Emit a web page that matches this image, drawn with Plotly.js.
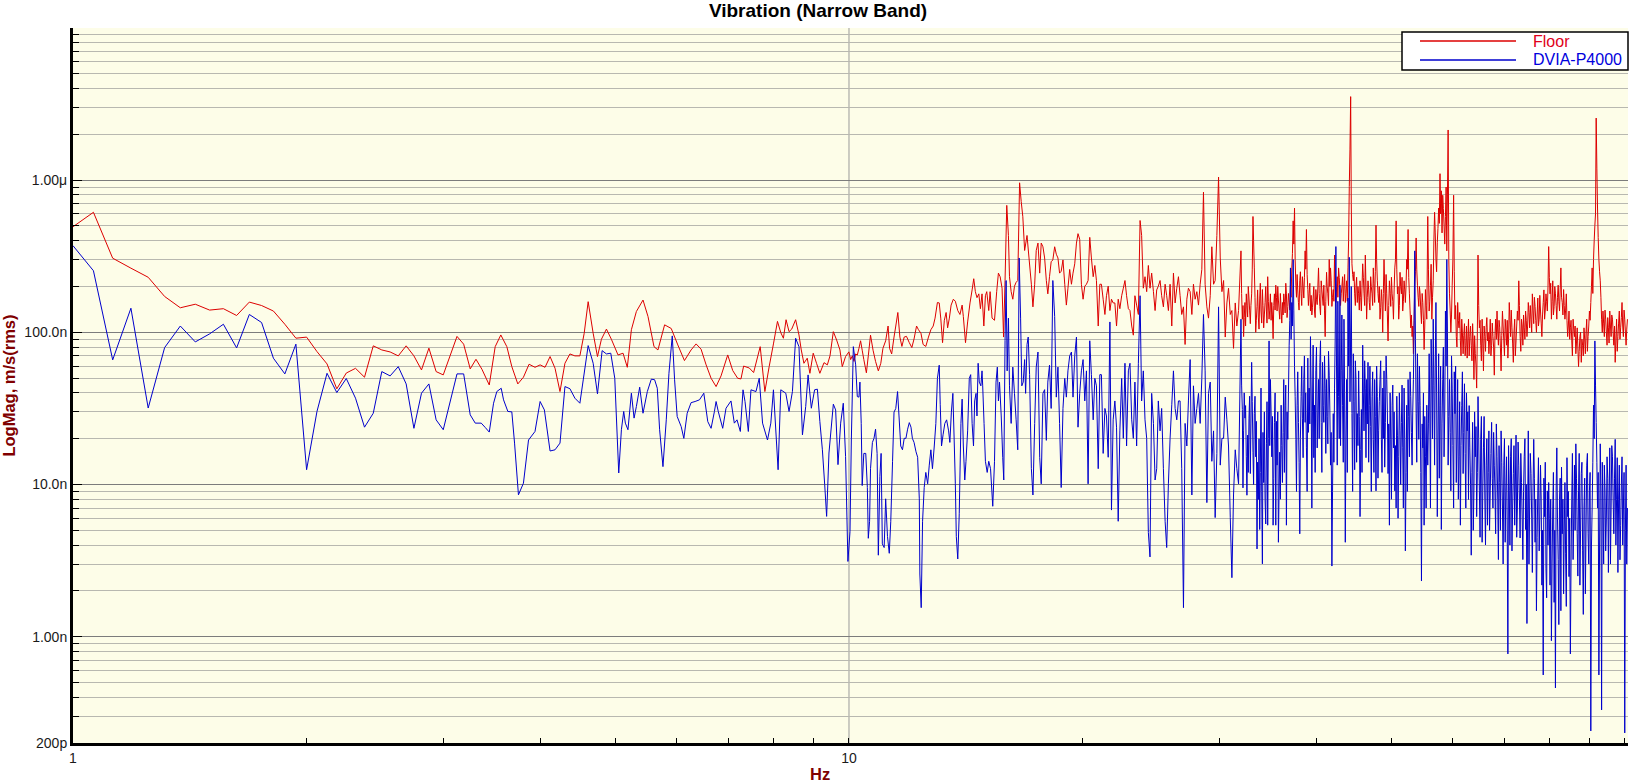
<!DOCTYPE html>
<html>
<head>
<meta charset="utf-8">
<script src="https://cdn.plot.ly/plotly-3.0.1.min.js"></script>
<style>
  html, body { margin: 0; padding: 0; background: #ffffff; }
  #chart { width: 1636px; height: 782px; }
</style>
</head>
<body>
<div id="chart"></div>
<script>
// Values in nm/s (rms); frequencies in Hz.
// 1 – 3.2 Hz
const hzLow = [1.0,1.0625,1.125,1.1875,1.25,1.3125,1.375,1.4375,1.5,1.5625,1.625,1.6875,1.75,1.8125,1.875,1.9375,2.0,2.0625,2.125,2.1875,2.25,2.3125,2.375,2.4375,2.5,2.5625,2.625,2.6875,2.75,2.8125,2.875,2.9375,3.0,3.125,3.1875];
const floorLow = [494,615,307,264,230,172,145,153,140,143,129,158,150,138,113,91.5,93,74.7,62,42.5,54,58,50.7,81.5,76.6,74.3,70,81.5,70,56.6,78.7,55.2,52.5,94,83.6];
const dviaLow = [371,254,65.9,144,31.8,79.4,110,86.5,97.7,113,79,131,116,67.6,53.3,83.6,12.5,30.2,53.8,40.2,49.7,36.9,23.8,29.4,55.2,51.7,59.5,45.8,23.4,39.8,45.8,26.6,22.9,53.3,53.3];

// 3.25 – 17.5 Hz, Floor
const floorHzMid = [3.25,3.306,3.365,3.439,3.50,3.559,3.623,3.677,3.743,3.806,3.870,3.939,3.999,4.058,4.119,4.180,4.242,4.305,4.369,4.434,4.500,4.558,4.612,4.681,4.741,4.797,4.869,4.941,5.039,5.115,5.180,5.243,5.321,5.427,5.508,5.607,5.673,5.786,5.901,6.018,6.137,6.259,6.353,6.447,6.545,6.642,6.741,6.841,6.978,7.082,7.187,7.258,7.315,7.439,7.535,7.684,7.791,7.891,7.992,8.088,8.168,8.232,8.297,8.371,8.437,8.536,8.621,8.680,8.748,8.835,8.905,8.993,9.082,9.172,9.286,9.378,9.452,9.546,9.640,9.735,9.802,9.899,9.997,
10.05,10.10,10.15,10.20,10.25,10.30,10.35,10.40,10.45,10.53,10.59,10.66,10.74,10.82,10.91,10.99,11.06,11.15,11.23,11.28,11.35,11.43,11.49,11.56,11.63,11.70,11.78,11.86,11.96,12.05,12.13,12.22,12.29,12.38,12.46,12.56,12.66,12.75,12.84,12.91,13.0,13.07,13.13,13.20,13.27,13.34,13.40,13.47,13.54,13.63,13.71,13.81,13.90,13.99,14.04,14.13,14.22,14.32,14.41,14.48,14.55,14.62,14.70,14.77,14.84,14.92,14.99,15.05,15.14,15.20,15.29,15.40,15.50,15.58,15.66,15.75,15.82,15.89,15.97,16.05,16.10,16.18,16.26,16.34,16.42,16.50,16.59,16.67,16.75,16.84,16.96,17.06,17.18,17.26,17.35,17.43,17.52];
const floorMid = [57.5,66.5,57.2,45.1,80.5,96.1,80.5,59.5,45.8,50.7,61.7,58.9,61.1,58.9,69.3,58.1,40.8,62.6,72.1,70,70,98.6,159,98.6,69.3,90,105,90,71,72.9,58.9,104,137,163,127,80.5,76.6,112,106,82.6,65.2,76.6,83.9,77.5,61.1,49.9,44,51.7,71,56.1,49.9,49.4,60,58.3,54.4,80.5,40.8,59.5,83.9,118,99.5,91.4,121,101,105,121,96.1,76.6,62.6,67.6,53.8,72.9,62.6,53.8,63.2,61.1,70,101,89,76.6,59.5,69.3,74.4,
66.2,70.1,64.4,72.1,70.9,78.5,88,76.3,66.2,54.2,70.1,95.8,76.3,64.4,55.8,62.6,78.5,88,110,78.5,72.1,93.1,110,135,93.1,80.8,93.1,94.1,85.5,79.4,90.5,110,104,98.6,83.2,80.8,93.1,104,110,124,157,156,124,85.5,120,135,107,124,151,165,160,139,131,151,127,85.5,117,156,190,225,185,169,179,143,179,110,174,185,139,185,124,120,185,245,232,195,93.1,219,683,433,232,185,165,201,213,219,961,723,575,345,433,308,207,147,207,345,386];

// 3.25 – 17.5 Hz, DVIA-P4000
const dviaHzMid = [3.25,3.299,3.358,3.398,3.439,3.483,3.517,3.563,3.588,3.634,3.677,3.707,3.75,3.806,3.864,3.939,3.999,4.05,4.119,4.180,4.242,4.305,4.369,4.434,4.500,4.545,4.612,4.681,4.741,4.807,4.869,4.932,4.991,5.05,5.09,5.125,5.15,5.19,5.243,5.285,5.321,5.374,5.427,5.497,5.562,5.617,5.662,5.701,5.758,5.815,5.861,5.919,5.96,6.006,6.078,6.126,6.187,6.259,6.334,6.417,6.50,6.577,6.642,6.708,6.741,6.787,6.875,6.943,7.046,7.116,7.173,7.244,7.302,7.345,7.418,7.476,7.588,7.662,7.738,7.852,7.930,7.992,8.103,8.168,8.29,8.371,8.455,8.536,8.621,8.71,8.795,8.857,8.943,9.03,9.105,9.172,9.241,9.305,9.358,9.423,9.546,9.612,9.679,9.756,9.832,9.899,9.968,10.03,10.07,10.13,10.20,10.25,
10.30,10.33,10.37,10.40,10.45,10.51,10.56,10.59,10.63,10.66,10.72,10.77,10.82,10.87,10.91,10.96,11.0,11.04,11.10,11.15,11.21,11.27,11.32,11.38,11.43,11.49,11.55,11.60,11.66,11.72,11.78,11.84,11.90,11.96,12.02,12.07,12.13,12.20,12.26,12.32,12.34,12.39,12.44,12.50,12.56,12.63,12.69,12.75,12.81,12.88,12.94,13.0,13.07,13.11,13.16,13.22,13.29,13.36,13.44,13.49,13.55,13.61,13.67,13.71,13.75,13.81,13.87,13.94,13.99,14.04,14.10,14.15,14.22,14.29,14.35,14.41,14.47,14.52,14.58,14.62,14.67,14.72,14.79,14.84,14.87,14.93,14.99,15.07,15.14,15.22,15.28,15.32,15.40,15.47,15.53,15.58,15.63,15.71,15.78,15.83,15.89,15.94,15.99,16.05,16.10,16.18,16.26,16.34,16.42,16.50,16.57,16.64,16.70,16.77,16.84,16.89,16.96,17.02,17.09,17.18,17.26,17.35,17.43,17.52];
const dviaMid = [28.7,25.3,25.3,23.7,22.1,34.2,40.8,42.9,36,30.2,30,18.7,8.55,10.2,19.6,22.3,35.1,30.9,16.6,16.9,18.7,44,42.6,36.9,34.2,48.7,81.8,62.6,39.4,75.8,72.1,72.9,49.9,11.9,22.9,30.2,25.3,22.9,39.8,27.3,32.5,43.6,29.4,40.8,49.2,48.8,42.9,22.9,13.1,26.6,53.8,94.7,48.8,28,24,20.1,29.4,34.5,35.1,36,39.8,25.9,23.4,30.2,35.1,30,23.4,31.7,35.4,25.3,26.6,22.3,41.9,35.1,22.3,41.9,40.8,49.9,25.3,19.6,25.3,41.9,12.5,41.9,39.8,30.2,40.8,91.4,80.5,21.2,32.5,52.5,31.7,41.9,42.3,25.9,16.9,9.95,6.17,16.1,33.7,30.9,13.5,25.3,34.2,15.3,3.12,4.91,19.6,80.5,61.1,37.8,
37.5,47.1,25.2,9.84,16.0,16.0,9.55,4.43,5.73,12.7,18.9,20.1,23.1,16.0,3.43,11.3,16.0,4.07,3.85,8.05,4.56,3.53,5.73,14.2,29.9,31.6,40.8,28.2,17.9,16.9,20.1,20.1,23.1,25.5,23.8,20.1,18.9,16.4,15.1,8.05,2.58,1.55,5.73,9.55,12.0,10.1,13.4,16.9,12.7,17.9,25.2,49.8,60.8,33.4,17.9,21.2,25.2,26.6,22.5,18.9,29.9,39.7,17.9,10.1,4.56,3.24,6.42,25.2,36.4,17.9,10.7,14.2,22.5,49.8,52.7,25.2,17.9,35.4,39.7,28.2,62.6,47.1,44.5,55.8,44.5,25.2,14.2,12.0,14.2,12.7,9.03,7.19,14.2,47.1,59.1,35.4,47.1,28.2,15.1,10.7,88,219,55.8,124,44.5,25.2,59.1,39.7,26.6,16.9,308,124,44.5,47.1,66.2,39.7,83.2,93.1,52.7,12.7,8.53,25.2,59.1,74.2];

// 17.6 – 31.8 Hz (shared frequencies)
const hzBand1 = [17.61,17.69,17.78,17.87,17.96,18.04,18.13,18.22,18.31,18.41,18.50,18.59,18.68,18.77,18.87,18.97,19.06,19.15,19.25,19.35,19.44,19.54,19.64,19.73,19.83,19.93,20.03,20.13,20.23,20.33,20.43,20.53,20.64,20.74,20.84,20.95,21.05,21.15,21.26,21.37,21.47,21.58,21.69,21.79,21.90,22.01,22.12,22.23,22.34,22.46,22.57,22.68,22.79,22.91,23.02,23.14,23.25,23.36,23.48,23.60,23.72,23.83,23.95,24.07,24.19,24.31,24.43,24.55,24.68,24.80,24.92,25.04,25.17,25.29,25.42,25.55,25.67,25.80,25.93,26.06,26.19,26.32,26.45,26.58,26.71,26.84,26.98,27.11,27.25,27.38,27.52,27.66,27.79,27.93,28.07,28.21,28.35,28.49,28.63,28.77,28.92,29.06,29.21,29.35,29.50,29.64,29.79,29.94,30.09,30.24,30.39,30.54,30.69,30.84,31.0,31.15,31.3,31.46,31.61,31.77];
const floorBand1 = [245,386,365,308,219,179,232,291,299,365,326,308,245,252,299,207,151,195,259,207,245,282,386,445,409,207,165,201,207,219,421,308,232,275,219,110,207,207,165,131,174,201,139,165,156,156,110,165,143,174,195,219,174,143,139,110,95.8,174,151,131,543,433,195,232,185,275,195,245,185,139,190,201,219,174,147,207,174,139,207,110,245,156,195,232,174,131,147,83.2,165,195,185,131,207,165,185,151,207,259,834,207,147,124,174,365,207,219,433,1047,308,185,219,93.1,156,195,131,139,78.5,156,110,139];
const dviaBand1 = [15.1,10.1,39.7,42.0,19.5,47.1,60.8,31.6,219,127,37.5,59.1,25.2,9.55,31.6,49.8,37.5,55.8,70.1,74.2,37.5,70.1,93.1,23.8,39.7,55.8,66.2,35.4,55.8,10.1,88,52.7,26.6,49.8,44.5,12.7,52.7,52.7,16.0,31.6,28.2,15.1,117,6.79,26.6,35.4,23.8,5.73,22.5,49.8,20.1,62.6,17.9,55.8,62.6,26.6,20.1,47.1,17.9,62.6,174,35.4,55.8,26.6,20.1,4.83,3.34,39.7,25.2,10.7,12.7,35.4,22.5,31.6,12.7,5.73,3.85,10.1,20.1,33.4,55.8,31.6,26.6,35.4,35.4,12.7,1.55,25.2,17.9,35.4,66.2,8.53,44.5,25.2,31.6,39.7,25.2,49.8,131,55.8,7.60,39.7,47.1,14.2,22.5,6.06,16.0,147,13.4,20.1,20.1,37.5,26.6,17.9,6.06,2.44,8.53,16.9,12.7,10.1];

// 32 – 55.5 Hz (shared frequencies)
const hzBand2 = [32.0,32.13,32.25,32.38,32.51,32.64,32.77,32.90,33.03,33.16,33.29,33.43,33.56,33.69,33.83,33.96,34.10,34.23,34.37,34.51,34.64,34.78,34.92,35.06,35.20,35.34,35.48,35.62,35.76,35.90,36.05,36.19,36.33,36.48,36.62,36.77,36.92,37.06,37.21,37.36,37.51,37.66,37.80,37.95,38.10,38.25,38.40,38.56,38.71,38.86,39.02,39.17,39.33,39.49,39.64,39.80,39.96,40.12,40.28,40.44,40.60,40.76,40.92,41.08,41.25,41.41,41.58,41.74,41.91,42.08,42.24,42.41,42.58,42.75,42.92,43.09,43.26,43.44,43.61,43.78,43.96,44.13,44.31,44.48,44.66,44.84,45.02,45.19,45.37,45.56,45.74,45.92,46.10,46.28,46.46,46.65,46.83,47.02,47.21,47.39,47.58,47.77,47.96,48.15,48.34,48.54,48.73,48.92,49.12,49.32,49.51,49.71,49.91,50.11,50.31,50.51,50.71,50.91,51.10,51.30,51.51,51.71,51.92,52.12,52.33,52.54,52.75,52.96,53.17,53.38,53.59,53.81,54.02,54.24,54.45,54.67,54.89,55.10,55.32,55.54];
const floorBand2 = [343,122,93.7,157,179,126,168,114,179,577,265,100,148,126,168,138,191,107,157,138,232,122,179,157,90.8,179,204,138,163,122,138,157,179,134,179,148,157,204,265,540,656,204,240,157,218,179,232,168,343,474,191,179,138,130,168,138,191,152,265,148,218,168,204,93.7,248,179,301,265,148,191,322,157,232,265,191,179,232,204,157,218,265,908,3540,282,218,179,204,157,179,218,138,282,179,322,122,218,157,232,179,265,157,506,218,157,122,191,100,301,138,179,87.8,218,148,179,122,265,540,179,122,248,179,138,218,157,301,474,179,107,93.7,72.3,204,417,204,148,179,114,157,77.1,191,122];
const dviaBand2 = [122,31.1,22.5,27.3,15.2,21.1,27.3,11.8,63.5,16.3,29.2,15.2,3.77,7.97,5.06,43.0,3.01,10.3,7.97,18.5,5.40,87.8,49.0,15.2,5.40,25.6,5.40,13.4,4.17,16.3,33.2,10.3,49.0,33.2,5.40,19.8,82.3,265,157,301,59.5,19.8,33.2,25.6,4.74,37.8,27.3,49.0,25.6,17.4,67.7,43.0,93.7,7.0,82.3,33.2,55.8,17.4,49.0,63.5,25.6,63.5,25.6,43.0,49.0,18.5,52.3,13.4,2.91,29.2,43.0,366,13.4,37.8,204,55.8,33.2,122,4.17,49.0,168,311,100,29.2,72.3,12.5,49.0,29.2,55.8,6.15,31.1,82.3,22.5,43.0,49.0,63.5,33.2,24.0,37.8,19.8,49.0,9.08,37.8,22.5,49.0,19.8,43.0,55.8,25.6,49.0,11.8,5.40,19.8,33.2,17.4,9.08,7.0,21.1,15.2,22.5,25.6,17.4,43.0,3.66,33.2,49.0,15.2,37.8,13.4,49.0,343,29.2,72.3,19.8,33.2,2.32,17.4,5.40,15.2,33.2];
// in-between bins, 32 – 55.5 Hz
const hzBand2Mid = [32.06,32.19,32.31,32.44,32.57,32.70,32.83,32.96,33.09,33.22,33.36,33.49,33.62,33.76,33.89,34.03,34.16,34.30,34.44,34.57,34.71,34.85,34.99,35.13,35.27,35.41,35.55,35.69,35.83,35.97,36.12,36.26,36.40,36.55,36.69,36.84,36.99,37.13,37.28,37.43,37.58,37.73,37.87,38.02,38.17,38.32,38.48,38.63,38.78,38.94,39.09,39.25,39.41,39.56,39.72,39.88,40.04,40.20,40.36,40.52,40.68,40.84,41.00,41.16,41.33,41.49,41.66,41.82,41.99,42.16,42.32,42.49,42.66,42.83,43.00,43.17,43.35,43.52,43.69,43.87,44.04,44.22,44.39,44.57,44.75,44.93,45.10,45.28,45.46,45.65,45.83,46.01,46.19,46.37,46.55,46.74,46.92,47.11,47.30,47.48,47.67,47.86,48.05,48.24,48.44,48.63,48.82,49.02,49.22,49.41,49.61,49.81,50.01,50.21,50.41,50.61,50.81,51.00,51.20,51.40,51.61,51.81,52.02,52.22,52.43,52.64,52.85,53.06,53.27,53.48,53.70,53.91,54.13,54.34,54.56,54.78,54.99,55.21,55.43];
const floorBand2Mid = [180,150,125,110,150,200,140,150,260,400,170,120,190,105,210,115,150,130,200,115,160,140,120,130,150,140,170,200,140,180,115,130,160,210,125,180,140,170,330,380,300,170,190,140,250,150,200,230,260,240,150,210,175,145,200,125,165,200,180,130,190,150,140,160,200,150,200,220,170,160,210,190,170,230,150,200,160,240,180,160,400,1600,700,240,250,150,230,200,140,170,200,230,150,200,170,190,140,200,150,210,250,300,180,200,145,160,180,200,240,130,150,180,230,160,190,300,260,200,150,200,230,160,190,200,260,230,140,130,110,120,250,260,170,200,140,180,120,110,150];
const dviaBand2Mid = [45,9.5,40,33,8.5,12,38,25,35,10,38,26,14,20,12,9,22,30,5.5,35,20,18,30,28,11,40,26,30,9,8,18,22,12,45,30,40,120,90,110,140,38,9,55,14,20,60,15,70,40,9,22,25,40,30,15,12,80,30,20,88,12,33,70,16,28,75,30,22,9,14,90,60,160,20,18,130,14,40,20,12,60,35,200,9,35,65,14,18,28,17,12,40,65,15,25,14,60,9,55,12,28,60,11,35,65,12,20,13,70,30,25,40,8,45,30,18,38,6,40,10,45,7,20,12,9,28,55,22,30,100,90,14,35,60,12,25,40,28,7];

// 55.7 – 100.7 Hz (shared frequencies)
const hzBand3 = [55.70,55.93,56.15,56.38,56.61,56.84,57.07,57.30,57.53,57.76,57.99,58.23,58.46,58.70,58.94,59.17,59.41,59.65,59.89,60.14,60.38,60.62,60.87,61.11,61.36,61.61,61.86,62.11,62.36,62.61,62.86,63.11,63.37,63.63,63.88,64.14,64.40,64.66,64.92,65.18,65.45,65.71,65.98,66.24,66.51,66.78,67.05,67.32,67.59,67.86,68.13,68.41,68.69,68.96,69.24,69.52,69.80,70.08,70.37,70.65,70.94,71.22,71.51,71.80,72.09,72.38,72.67,72.97,73.26,73.56,73.86,74.16,74.46,74.76,75.06,75.36,75.67,75.97,76.28,76.59,76.90,77.21,77.52,77.83,78.15,78.46,78.78,79.10,79.42,79.74,80.06,80.39,80.71,81.04,81.36,81.69,82.02,82.35,82.68,83.01,83.35,83.68,84.02,84.36,84.70,85.04,85.39,85.73,86.08,86.43,86.78,87.13,87.48,87.84,88.19,88.55,88.91,89.27,89.63,89.99,90.36,90.72,91.09,91.46,91.81,92.18,92.55,92.93,93.30,93.68,94.06,94.44,94.82,95.20,95.59,95.97,96.36,96.75,97.14,97.54,97.93,98.33,98.73,99.13,99.53,99.93,100.33,100.74];
const floorBand3 = [577,138,204,122,218,615,301,391,656,1103,851,796,506,577,343,2137,179,100,204,796,122,93.7,157,107,87.8,122,72.3,114,82.3,67.7,122,93.7,82.3,114,49.0,72.3,43.0,322,107,82.3,122,55.8,93.7,107,87.8,72.3,122,82.3,93.7,52.3,122,138,82.3,107,55.8,138,87.8,122,82.3,67.7,157,93.7,107,63.5,122,87.8,138,218,93.7,122,82.3,107,138,93.7,157,107,122,179,114,148,100,168,122,138,93.7,157,122,179,138,366,179,122,218,148,179,122,204,138,265,157,191,122,179,93.7,138,107,87.8,122,93.7,72.3,107,59.5,93.7,63.5,82.3,107,72.3,122,93.7,138,157,265,301,506,2559,656,301,218,122,138,93.7,122,82.3,107,138,93.7,122,82.3,63.5,122,93.7,138,107,157,93.7,122,82.3,122];
const dviaBand3 = [13.4,72.3,7.0,49.0,122,13.4,157,6.15,72.3,33.2,5.06,49.0,15.2,138,301,13.4,49.0,9.08,43.0,7.0,29.2,10.3,49.0,15.2,5.40,33.2,11.8,45.9,7.0,22.5,7.97,17.4,3.43,25.6,9.08,15.2,6.15,37.8,9.08,19.8,4.17,17.4,7.97,13.4,5.40,22.5,9.08,25.6,7.0,13.4,4.74,15.2,3.21,10.3,22.5,7.0,13.4,4.17,15.2,0.77,9.08,15.2,3.66,11.8,5.40,21.1,7.0,13.4,4.45,10.3,3.21,15.2,5.06,1.22,22.5,7.0,11.8,2.64,19.8,4.17,1.48,9.08,3.66,13.4,2.18,0.56,6.15,2.82,9.08,10.3,2.18,0.94,7.0,1.68,0.46,17.4,3.21,7.97,1.48,4.74,1.91,10.3,1.58,6.15,2.48,0.77,7.97,3.21,13.4,18.5,4.74,9.08,2.18,11.8,3.66,7.0,1.91,13.4,4.74,9.08,0.24,7.0,33.2,87.8,25.6,7.0,0.56,18.5,0.33,7.0,13.4,3.66,15.2,2.64,17.4,7.0,15.2,4.74,19.8,7.97,2.64,13.4,5.40,15.2,7.0,0.233,13.4,7.0];
// in-between bins, 55.8 – 100.5 Hz
const hzBand3Mid = [55.81,56.04,56.26,56.49,56.72,56.95,57.18,57.41,57.64,57.87,58.11,58.34,58.58,58.82,59.05,59.29,59.53,59.77,60.01,60.26,60.50,60.74,60.99,61.23,61.48,61.73,61.98,62.23,62.48,62.73,62.98,63.24,63.50,63.75,64.01,64.27,64.53,64.79,65.05,65.31,65.58,65.84,66.11,66.37,66.64,66.91,67.18,67.45,67.72,67.99,68.27,68.55,68.82,69.10,69.38,69.66,69.94,70.22,70.51,70.79,71.08,71.36,71.65,71.94,72.23,72.52,72.82,73.11,73.41,73.71,74.01,74.31,74.61,74.91,75.21,75.51,75.82,76.12,76.43,76.74,77.05,77.36,77.67,77.99,78.30,78.62,78.94,79.26,79.58,79.90,80.22,80.55,80.87,81.20,81.52,81.85,82.18,82.51,82.84,83.18,83.51,83.85,84.19,84.53,84.87,85.21,85.56,85.90,86.25,86.60,86.95,87.30,87.66,88.01,88.37,88.73,89.09,89.45,89.81,90.17,90.54,90.90,91.27,91.63,92.0,92.36,92.74,93.11,93.49,93.87,94.25,94.63,95.01,95.39,95.78,96.16,96.55,96.94,97.34,97.73,98.13,98.53,98.93,99.33,99.73,100.13,100.53];
const floorBand3Mid = [260,160,280,170,400,450,250,480,520,600,450,650,380,900,800,300,140,130,300,250,150,80,120,135,70,100,95,70,110,90,70,110,65,85,95,60,100,150,120,65,85,110,75,125,100,90,70,115,80,95,90,100,120,80,95,110,70,105,120,90,120,140,85,100,70,110,120,150,75,110,130,90,120,110,135,150,100,140,170,120,130,110,175,115,130,190,140,160,200,230,210,160,130,200,150,170,160,190,170,130,150,140,120,110,90,120,70,105,110,85,80,75,100,90,70,90,100,75,110,120,200,180,400,600,1200,420,250,170,100,115,140,100,125,85,110,130,100,110,90,75,115,90,125,110,140,100,105];
const dviaBand3Mid = [25,30,90,20,45,60,40,20,11,60,25,80,30,60,100,28,22,70,18,55,60,20,8,35,18,55,22,16,40,30,33,10,12,5,30,24,12,20,4.5,28,9,28,4,20,12,5,16,11,22,9,25,8,18,5,14,3,20,9,5,18,4,20,7,18,10,4.5,19,8,16,6,9,20,10,6,3,16,6,9,11,8,4.5,15,6,8,5,11,14,1.8,4,6,8,3,12,5,9,6,1.2,11,13,8,5,3.5,15,9,6,3,16,6,5,11,2.5,16,5,14,1.4,11,5,16,3,12,4,14,20,45,14,12,4,9,14,3,9,6,11,8,3,18,8,11,4,15,8,3.2,10,4,12,5,3];

// Axis tick labels
const yTickVals = [0.2, 1, 10, 100, 1000];
const yTickText = ['200p', '1.00n', '10.0n', '100.0n', '1.00\u03bc'];
const yMinorVals = [0.3,0.4,0.5,0.6,0.7,0.8,0.9,2,3,4,5,6,7,8,9,20,30,40,50,60,70,80,90,200,300,400,500,600,700,800,900,2000,3000,4000,5000,6000,7000,8000,9000];
const xTickVals = [1, 10, 100];
const xTickText = ['1', '10', '100'];
const xMinorVals = [2,3,4,5,6,7,8,9,20,30,40,50,60,70,80,90];

// merge segments into one series, ordered by frequency
function series(xParts, yParts) {
  const xs = [].concat(...xParts), ys = [].concat(...yParts);
  const pts = xs.map((x, i) => [x, ys[i]]).sort((a, b) => a[0] - b[0]);
  return { x: pts.map(p => p[0]), y: pts.map(p => p[1]) };
}
const floorS = series([hzLow, floorHzMid, hzBand1, hzBand2, hzBand2Mid, hzBand3, hzBand3Mid],
                      [floorLow, floorMid, floorBand1, floorBand2, floorBand2Mid, floorBand3, floorBand3Mid]);
const dviaS = series([hzLow, dviaHzMid, hzBand1, hzBand2, hzBand2Mid, hzBand3, hzBand3Mid],
                     [dviaLow, dviaMid, dviaBand1, dviaBand2, dviaBand2Mid, dviaBand3, dviaBand3Mid]);

const RED = '#dd0000';
const BLUE = '#0000cc';
const FONT = 'Liberation Sans, Arial, Helvetica, sans-serif';

const traces = [
  { x: floorS.x, y: floorS.y, type: 'scatter', mode: 'lines', name: 'Floor',
    line: { color: RED, width: 1, simplify: false } },
  { x: dviaS.x, y: dviaS.y, type: 'scatter', mode: 'lines', name: 'DVIA-P4000',
    line: { color: BLUE, width: 1, simplify: false } }
];

const L = 73, R = 1628, T = 28, B = 743;
const px = v => (v - L) / (R - L);
const py = v => (B - v) / (B - T);

const layout = {
  width: 1636, height: 782,
  margin: { l: L, r: 1636 - R, t: T, b: 782 - B, pad: 0 },
  paper_bgcolor: '#ffffff',
  plot_bgcolor: '#fdfde8',
  font: { family: FONT, size: 14, color: '#1a1a1a' },
  showlegend: false,
  hovermode: false,
  title: {
    text: '<b>Vibration (Narrow Band)</b>',
    font: { family: FONT, size: 19, color: '#000000' },
    xref: 'container', x: 0.5, xanchor: 'center',
    yref: 'container', y: 1 - 10 / 782, yanchor: 'middle'
  },
  xaxis: {
    type: 'log', range: [0, 2.0039], fixedrange: true,
    tickmode: 'array', tickvals: xTickVals, ticktext: xTickText,
    ticks: 'inside', ticklen: 5, tickwidth: 1, tickcolor: '#000000',
    tickfont: { family: FONT, size: 14, color: '#1a1a1a' },
    showgrid: false, zeroline: false,
    showline: true, linecolor: '#000000', linewidth: 3, mirror: false,
    minor: { tickmode: 'array', tickvals: xMinorVals, ticks: 'inside', ticklen: 5, tickwidth: 1, tickcolor: '#000000', showgrid: false }
  },
  yaxis: {
    type: 'log', range: [Math.log10(0.2), 4], fixedrange: true,
    tickmode: 'array', tickvals: yTickVals, ticktext: yTickText,
    ticks: 'inside', ticklen: 9, tickwidth: 1, tickcolor: '#000000',
    tickfont: { family: FONT, size: 14, color: '#1a1a1a' },
    showgrid: true, gridcolor: '#7c7c7c', gridwidth: 1, zeroline: false,
    showline: true, linecolor: '#000000', linewidth: 3, mirror: false,
    minor: { tickmode: 'array', tickvals: yMinorVals, ticks: 'inside', ticklen: 6, tickwidth: 1, tickcolor: '#000000',
             showgrid: true, gridcolor: '#b8b8b0', gridwidth: 1 },
    title: { text: '<b>LogMag, m/s(rms)</b>', font: { family: FONT, size: 16.5, color: '#800000' }, standoff: 8 }
  },
  shapes: [
    { type: 'line', xref: 'x', yref: 'paper', x0: 10, x1: 10, y0: 0, y1: 1,
      line: { color: '#9a9a9a', width: 1 }, layer: 'between' },
    { type: 'rect', xref: 'paper', yref: 'paper', x0: px(1402), x1: px(1628), y0: py(70), y1: py(32),
      line: { color: '#000000', width: 1.5 }, fillcolor: '#ffffff', layer: 'above' },
    { type: 'line', xref: 'paper', yref: 'paper', x0: px(1420), x1: px(1516), y0: py(41), y1: py(41),
      line: { color: RED, width: 1.5 }, layer: 'above' },
    { type: 'line', xref: 'paper', yref: 'paper', x0: px(1420), x1: px(1516), y0: py(60), y1: py(60),
      line: { color: BLUE, width: 1.5 }, layer: 'above' }
  ],
  annotations: [
    { xref: 'paper', yref: 'paper', x: px(1531), y: py(41), xanchor: 'left', yanchor: 'middle',
      text: 'Floor', showarrow: false, font: { family: FONT, size: 16, color: '#e0001a' } },
    { xref: 'paper', yref: 'paper', x: px(1531), y: py(60), xanchor: 'left', yanchor: 'middle',
      text: 'DVIA-P4000', showarrow: false, font: { family: FONT, size: 16, color: '#0000dd' } },
    { xref: 'paper', yref: 'paper', x: px(820), y: py(774), xanchor: 'center', yanchor: 'middle',
      text: '<b>Hz</b>', showarrow: false, font: { family: FONT, size: 16.5, color: '#800000' } }
  ]
};

Plotly.newPlot('chart', traces, layout, { displayModeBar: false, staticPlot: true });
</script>
</body>
</html>
